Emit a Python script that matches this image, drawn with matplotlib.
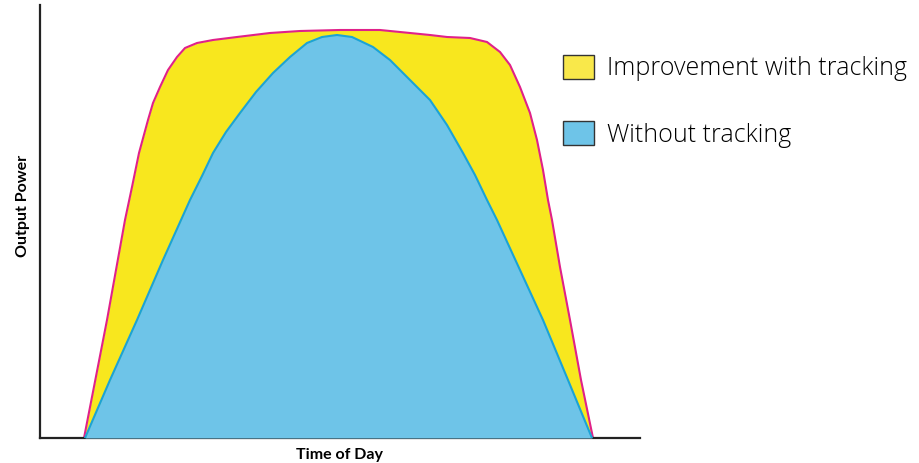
import matplotlib.pyplot as plt
from matplotlib.patches import Patch

# output power curves (time and power in arbitrary units)
time_tracking = [44, 67, 85, 92, 99, 108, 113, 120, 128, 137, 145, 157, 173, 197,
                 230, 260, 300, 340, 370, 390, 407, 430, 447, 460, 470, 480, 490,
                 497, 503, 508, 512, 520, 530, 541, 553]
power_tracking = [0, 118, 218, 251, 285, 318, 335, 351, 368, 381, 390, 395, 398, 401,
                  405, 407, 408, 408, 405, 403, 401, 400, 396, 386, 373, 351, 325,
                  298, 268, 238, 218, 171, 118, 58, 0]

time_fixed = [45, 70, 97, 123, 150, 162, 173, 186, 200, 216, 233, 250, 267, 282,
              297, 312, 333, 350, 367, 390, 407, 423, 435, 447, 457, 480, 503, 528, 552]
power_fixed = [0, 58, 118, 178, 238, 262, 285, 306, 325, 346, 365, 381, 395, 401,
               403, 401, 391, 378, 361, 338, 313, 285, 263, 238, 218, 168, 118, 58, 0]

labels = ['Improvement with tracking', 'Without tracking']

yellow = '#f8e71e'
blue_fill = '#6ec4e8'
pink = '#e0218a'
blue_line = '#1ba3d6'

fig = plt.figure(figsize=(9.2, 4.63), dpi=100)
ax = fig.add_axes([40/920, 25/463, 600/920, 433/463])

ax.fill_between(time_tracking, power_tracking, 0, color=yellow, lw=0, zorder=1)
ax.plot(time_tracking, power_tracking, color=pink, lw=1.5, zorder=2)
ax.fill_between(time_fixed, power_fixed, 0, color=blue_fill, lw=0, zorder=3)
ax.plot(time_fixed, power_fixed, color=blue_line, lw=1.5, zorder=4)

ax.set_xlim(0, 600)
ax.set_ylim(0, 433)
ax.set_xticks([])
ax.set_yticks([])
for s in ['top', 'right']:
    ax.spines[s].set_visible(False)
for s in ['left', 'bottom']:
    ax.spines[s].set_linewidth(1.6)
    ax.spines[s].set_color('#222222')

ax.set_xlabel('Time of Day', fontsize=11.5, fontweight='bold', family='Lato', labelpad=7)
ax.set_ylabel('Output Power', fontsize=11.5, fontweight='bold', family='Lato')
ax.yaxis.set_label_coords(-0.017, 0.536)

handles = [Patch(facecolor='#f9e84a', edgecolor='#333333', lw=1),
           Patch(facecolor=blue_fill, edgecolor='#333333', lw=1)]
fig.legend(handles, labels, loc='upper left', bbox_to_anchor=(563/920, 1 - 55/463),
           frameon=False, borderpad=0, borderaxespad=0,
           handlelength=1.24, handleheight=1.08, handletextpad=0.52, labelspacing=1.6,
           prop={'family': 'Open Sans', 'size': 18, 'weight': 'light'})

fig.savefig('out.png', dpi=100)
